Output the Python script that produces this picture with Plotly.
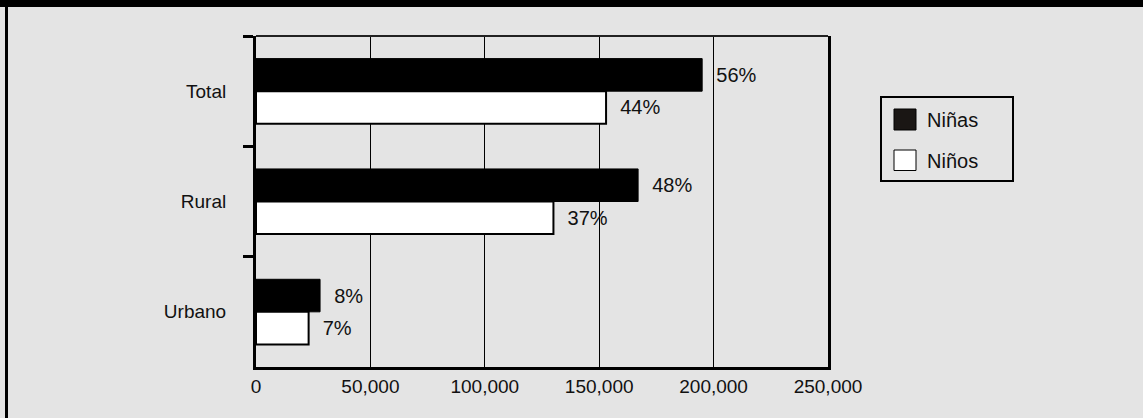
import plotly.graph_objects as go

categories = ["Total", "Rural", "Urbano"]
ninas = [195000, 167000, 28000]
ninos = [153000, 130000, 23000]
ninas_pct = ["56%", "48%", "8%"]
ninos_pct = ["44%", "37%", "7%"]
x_ticks = [0, 50000, 100000, 150000, 200000, 250000]
x_tick_labels = ["0", "50,000", "100,000", "150,000", "200,000", "250,000"]
legend_names = ["Niñas", "Niños"]

FONT = "Liberation Sans, Arial, sans-serif"
BG = "#e4e4e4"
pad = "\u00a0\u00a0"
LABEL_SIZE = 20
TICK_SIZE = 19

fig = go.Figure()
fig.add_trace(go.Bar(
    y=categories, x=ninas, orientation="h", name=legend_names[0],
    marker=dict(color="black", line=dict(color="black", width=1)),
    text=[pad + t for t in ninas_pct], textposition="outside",
    textfont=dict(family=FONT, size=LABEL_SIZE, color="#111"), cliponaxis=False,
))
fig.add_trace(go.Bar(
    y=categories, x=ninos, orientation="h", name=legend_names[1],
    marker=dict(color="white", line=dict(color="black", width=2)),
    text=[pad + t for t in ninos_pct], textposition="outside",
    textfont=dict(family=FONT, size=LABEL_SIZE, color="#111"), cliponaxis=False,
))

W, H = 1143, 418
L, R, T, B = 256, 828, 36, 367
def px_x(px):
    return (px - L) / (R - L)
def px_y(py):
    return 1 - (py - T) / (B - T)

shapes = [
    # top black banner
    dict(type="rect", xref="paper", yref="paper", x0=px_x(-5), x1=px_x(W + 5),
         y0=px_y(7), y1=px_y(-5), fillcolor="black", line=dict(width=0), layer="above"),
    # left frame line
    dict(type="line", xref="paper", yref="paper", x0=px_x(6.5), x1=px_x(6.5),
         y0=px_y(0), y1=px_y(H + 5), line=dict(color="black", width=3)),
    # top plot border
    dict(type="line", xref="paper", yref="paper", x0=0, x1=1, y0=1, y1=1,
         line=dict(color="#222", width=2)),
    # legend box
    dict(type="rect", xref="paper", yref="paper", x0=px_x(881), x1=px_x(1013),
         y0=px_y(181), y1=px_y(97), fillcolor=BG, line=dict(color="black", width=2)),
    dict(type="rect", xref="paper", yref="paper", x0=px_x(894), x1=px_x(916),
         y0=px_y(130), y1=px_y(109), fillcolor="#1a1614", line=dict(color="black", width=1)),
    dict(type="rect", xref="paper", yref="paper", x0=px_x(894), x1=px_x(916),
         y0=px_y(170.5), y1=px_y(150), fillcolor="white", line=dict(color="black", width=1)),
]
annotations = [
    dict(xref="paper", yref="paper", x=px_x(925), y=px_y(120), text=legend_names[0],
         showarrow=False, xanchor="left", yanchor="middle",
         font=dict(family=FONT, size=LABEL_SIZE, color="#111")),
    dict(xref="paper", yref="paper", x=px_x(925), y=px_y(160.5), text=legend_names[1],
         showarrow=False, xanchor="left", yanchor="middle",
         font=dict(family=FONT, size=LABEL_SIZE, color="#111")),
]

fig.update_layout(
    width=W, height=H,
    paper_bgcolor=BG, plot_bgcolor=BG,
    margin=dict(l=L, r=W - R, t=T, b=H - B, pad=0),
    barmode="group", bargap=0.41, bargroupgap=0,
    showlegend=False,
    font=dict(family=FONT, size=TICK_SIZE, color="#111"),
    shapes=shapes, annotations=annotations,
)
fig.update_xaxes(
    range=[0, 250000], tickvals=x_ticks, ticktext=x_tick_labels,
    showgrid=True, gridcolor="black", gridwidth=1,
    showline=True, linecolor="black", linewidth=3,
    ticks="", zeroline=False,
    tickfont=dict(family=FONT, size=TICK_SIZE, color="#111"),
)
fig.update_yaxes(
    categoryorder="array", categoryarray=categories, autorange="reversed",
    showline=True, linecolor="black", linewidth=3, mirror=True,
    ticks="outside", ticklen=10, tickwidth=3, tickcolor="black",
    tickson="boundaries", showgrid=False, ticklabelstandoff=23,
    tickfont=dict(family=FONT, size=TICK_SIZE, color="#111"),
)

fig.write_html(
    "out.html",
    config={"displayModeBar": False},
    post_script="document.body.style.margin='0';document.body.style.overflow='hidden';",
)
